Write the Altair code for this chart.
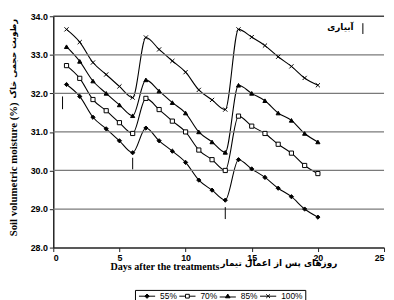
import altair as alt
import pandas as pd

days = list(range(1, 21))
series_names = ["55%", "70%", "85%", "100%"]
s55 = [32.23, 31.92, 31.38, 31.08, 30.77, 30.46, 31.10, 30.77, 30.50, 30.21,
       29.75, 29.49, 29.23, 30.28, 30.04, 29.82, 29.54, 29.32, 29.00, 28.79]
s70 = [32.72, 32.39, 31.84, 31.55, 31.24, 30.96, 31.87, 31.58, 31.28, 31.00,
       30.53, 30.28, 30.00, 31.41, 31.15, 30.96, 30.68, 30.45, 30.13, 29.92]
s85 = [33.21, 32.83, 32.32, 32.00, 31.70, 31.42, 32.35, 32.06, 31.76, 31.49,
       31.00, 30.74, 30.47, 32.21, 32.00, 31.81, 31.49, 31.30, 30.96, 30.74]
s100 = [33.66, 33.33, 32.80, 32.49, 32.18, 31.89, 33.45, 33.14, 32.84, 32.55,
        32.09, 31.83, 31.58, 33.66, 33.46, 33.24, 32.95, 32.70, 32.40, 32.21]

x_ticks = [0, 5, 10, 15, 20, 25]
y_ticks = [28, 29, 30, 31, 32, 33, 34]

# irrigation arrows: day, bottom, top
arrow_day = [0.7, 6.0, 13.0, 23.4]
arrow_y1 = [31.59, 30.03, 28.74, 33.54]
arrow_y2 = [31.92, 30.33, 29.05, 33.82]
legend_note = "آبیاری"
x_title_en = "Days after the treatments"
x_title_fa = "روزهای پس از اعمال تیمار"
y_title_en = "Soil volumetric moisture (%)"
y_title_fa = "رطوبت حجمی خاک"

rows = []
for name, vals in zip(series_names, [s55, s70, s85, s100]):
    for d, v in zip(days, vals):
        rows.append({"day": d, "value": v, "series": name})
df = pd.DataFrame(rows)
arrows = pd.DataFrame({"day": arrow_day, "y1": arrow_y1, "y2": arrow_y2})

xscale = alt.Scale(domain=[0, 25], nice=False)
yscale = alt.Scale(domain=[28, 34], nice=False, zero=False)

xaxis = alt.Axis(
    values=x_ticks, format="d", title=x_title_en, grid=False, labelOverlap=False,
    titleX=113, titleY=19, titleBaseline="middle", titleFontSize=10.25)
yaxis = alt.Axis(
    values=y_ticks, format=".1f", title=y_title_en, grid=False, labelOverlap=False,
    titleX=-40, titleY=155, titleBaseline="middle", titleFontSize=11)


def X(field):
    return alt.X(field, scale=xscale, axis=xaxis)


def Y(field):
    return alt.Y(field, scale=yscale, axis=yaxis)


lines = alt.Chart(df).mark_line(
    interpolate="monotone", color="black", strokeWidth=1.1
).encode(x=X("day:Q"), y=Y("value:Q"), detail="series:N")

grid = alt.Chart(pd.DataFrame({"g": y_ticks[1:-1]})).mark_rule(
    color="#7a7a7a", strokeWidth=1.3).encode(y=Y("g:Q"))
toprule = alt.Chart(pd.DataFrame({"g": [y_ticks[-1]]})).mark_rule(
    color="#444", strokeWidth=1.5).encode(y=Y("g:Q"))

xpath = "M-1,-1L1,1M-1,1L1,-1"
points = alt.Chart(df).mark_point(
    size=18, stroke="black", strokeWidth=1, opacity=1, filled=False
).encode(
    x=X("day:Q"), y=Y("value:Q"),
    shape=alt.Shape("series:N", scale=alt.Scale(
        domain=series_names, range=["diamond", "square", "triangle-up", xpath]), legend=None),
    fill=alt.Fill("series:N", scale=alt.Scale(
        domain=series_names, range=["black", "white", "black", "black"]), legend=None),
)

# legend helper (clipped out of view); symbols drawn as line + marker
leg_paths = [
    "M-3,0H3M0,-0.8L0.8,0L0,0.8L-0.8,0Z",
    "M-3,0H-0.7M0.7,0H3M-0.7,-0.7H0.7V0.7H-0.7Z",
    "M-3,0.3H3M0,-0.8L0.85,0.6L-0.85,0.6Z",
    "M-3,0H3M-0.7,-0.7L0.7,0.7M-0.7,0.7L0.7,-0.7",
]
leg_df = pd.DataFrame({"key": series_names, "day": [-20] * 4, "value": [31] * 4})
legend_kw = dict(title=None, orient="none", direction="horizontal",
                 legendX=83, legendY=278, strokeColor="black",
                 padding=2, columnPadding=-2, symbolSize=30, labelOffset=9,
                 symbolOffset=6,
                 labelFont="Liberation Sans", labelFontSize=8.5, labelColor="black",
                 symbolStrokeColor="black", symbolStrokeWidth=1, symbolOpacity=1)
leg = alt.Chart(leg_df).mark_point(clip=True, strokeWidth=1,
                                   opacity=1, filled=False).encode(
    x=X("day:Q"), y=Y("value:Q"),
    shape=alt.Shape("key:N", sort=series_names,
                    scale=alt.Scale(domain=series_names, range=leg_paths),
                    legend=alt.Legend(**legend_kw)),
    fill=alt.Fill("key:N", sort=series_names,
                  scale=alt.Scale(domain=series_names,
                                  range=["black", "white", "black", "black"]),
                  legend=alt.Legend(**legend_kw)),
    stroke=alt.Stroke("key:N", sort=series_names,
                      scale=alt.Scale(domain=series_names,
                                      range=["black", "black", "black", "black"]),
                      legend=alt.Legend(**legend_kw)),
)

arrow_marks = alt.Chart(arrows).mark_rule(color="black", strokeWidth=1).encode(
    x=X("day:Q"), y=Y("y1:Q"), y2="y2:Q")

note = alt.Chart(pd.DataFrame({"day": [21.7], "y": [33.72], "t": [legend_note]})).mark_text(
    font="DejaVu Sans", fontWeight="bold", fontSize=9, color="black"
).encode(x=X("day:Q"), y=Y("y:Q"), text="t:N")

fa_x = alt.Chart(pd.DataFrame({"day": [17.05], "y": [27.6], "t": [x_title_fa]})).mark_text(
    font="DejaVu Sans", fontWeight="bold", fontSize=9, color="black"
).encode(x=X("day:Q"), y=Y("y:Q"), text="t:N")

fa_y = alt.Chart(pd.DataFrame({"day": [-3.05], "y": [32.9], "t": [y_title_fa]})).mark_text(
    font="DejaVu Sans", fontWeight="bold", fontSize=8.5, color="black", angle=270
).encode(x=X("day:Q"), y=Y("y:Q"), text="t:N")

chart = alt.layer(lines, grid, toprule, points, leg, arrow_marks, note, fa_x, fa_y).resolve_scale(
    shape="independent", fill="independent", stroke="independent"
).properties(
    width=336, height=235,
    autosize=alt.AutoSizeParams(type="none"),
    padding={"left": 46, "top": 6, "right": 2, "bottom": 60},
).configure_view(stroke=None).configure_axis(
    labelFont="Liberation Sans", labelFontWeight="bold", labelFontSize=9,
    labelColor="black", domainColor="#222", domainWidth=1.5,
    tickColor="#222", tickSize=4, labelPadding=2,
    titleFont="Liberation Serif", titleFontWeight="bold",
    titleColor="black",
)

chart.save("out.html", embed_options={"renderer": "svg", "actions": False})
